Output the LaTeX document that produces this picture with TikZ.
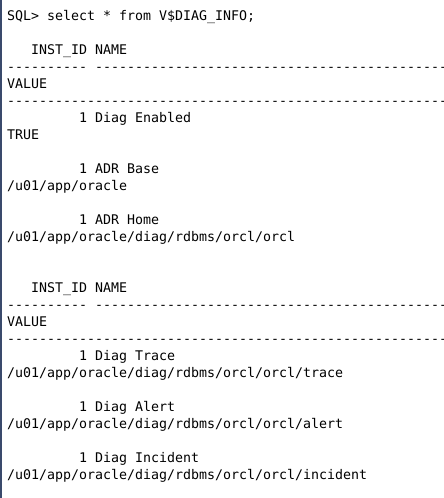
\documentclass[tikz,border=0pt]{standalone}
\usepackage{fontspec}
\newfontfamily\term{DejaVu Sans Mono}
\newcommand\dsh[1]{\foreach \i in {1,...,#1}{-\kern0pt}}
\tikzset{
  ln/.style={anchor=base west, inner sep=0pt, outer sep=0pt, text=black,
    font=\term\fontsize{13.29pt}{17pt}\selectfont}
}
\begin{document}
\begin{tikzpicture}[x=1pt,y=-1pt]
\useasboundingbox (0,0) rectangle (444,498);
\fill[white] (0,0) rectangle (444,498);
\fill[fill={rgb,255:red,58;green,74;blue,108}] (0,0) rectangle (2,498);
\begin{scope}
\clip (2,0) rectangle (444,498);
\def\bx{7}
\def\cw{8}
% line k baseline: 20.5 + 17k
\node[ln] (l0)  at (\bx,20.5)            {SQL> select * from V\$DIAG\textunderscore INFO;};
\node[ln] (l2)  at (\bx+3*\cw,54.5)      {INST\textunderscore ID NAME};
\node[ln] (l3a) at (\bx,71.5)            {\dsh{10}};
\node[ln] (l3b) at (\bx+11*\cw,71.5)     {\dsh{50}};
\node[ln] (l4)  at (\bx,88.5)            {VALUE};
\node[ln] (l5)  at (\bx,105.5)           {\dsh{60}};
\node[ln] (l6)  at (\bx+9*\cw,122.5)     {1 Diag Enabled};
\node[ln] (l7)  at (\bx,139.5)           {TRUE};
\node[ln] (l9)  at (\bx+9*\cw,173.5)     {1 ADR Base};
\node[ln] (l10) at (\bx,190.5)           {/u01/app/oracle};
\node[ln] (l12) at (\bx+9*\cw,224.5)     {1 ADR Home};
\node[ln] (l13) at (\bx,241.5)           {/u01/app/oracle/diag/rdbms/orcl/orcl};
\node[ln] (l16) at (\bx+3*\cw,292.5)     {INST\textunderscore ID NAME};
\node[ln] (l17a) at (\bx,309.5)          {\dsh{10}};
\node[ln] (l17b) at (\bx+11*\cw,309.5)   {\dsh{50}};
\node[ln] (l18) at (\bx,326.5)           {VALUE};
\node[ln] (l19) at (\bx,343.5)           {\dsh{60}};
\node[ln] (l20) at (\bx+9*\cw,360.5)     {1 Diag Trace};
\node[ln] (l21) at (\bx,377.5)           {/u01/app/oracle/diag/rdbms/orcl/orcl/trace};
\node[ln] (l23) at (\bx+9*\cw,411.5)     {1 Diag Alert};
\node[ln] (l24) at (\bx,428.5)           {/u01/app/oracle/diag/rdbms/orcl/orcl/alert};
\node[ln] (l26) at (\bx+9*\cw,462.5)     {1 Diag Incident};
\node[ln] (l27) at (\bx,479.5)           {/u01/app/oracle/diag/rdbms/orcl/orcl/incident};
\end{scope}
\end{tikzpicture}
\end{document}
